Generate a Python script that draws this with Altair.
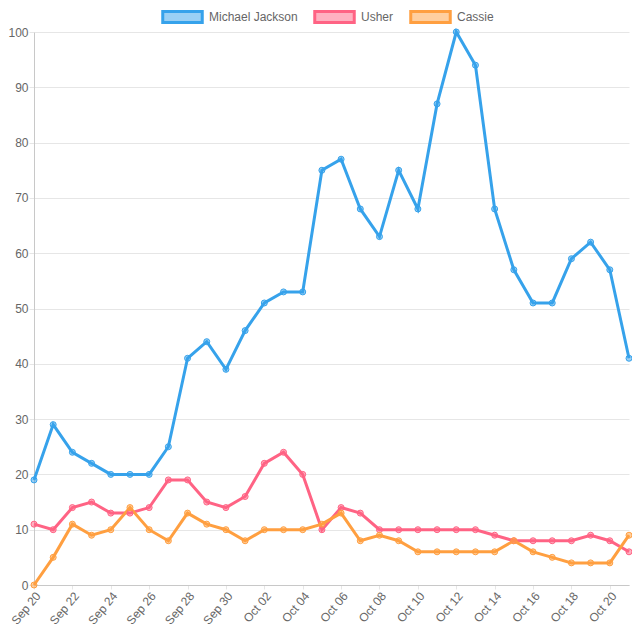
import altair as alt
import pandas as pd

dates = ["Sep 20", "Sep 21", "Sep 22", "Sep 23", "Sep 24", "Sep 25", "Sep 26", "Sep 27",
         "Sep 28", "Sep 29", "Sep 30", "Oct 01", "Oct 02", "Oct 03", "Oct 04", "Oct 05",
         "Oct 06", "Oct 07", "Oct 08", "Oct 09", "Oct 10", "Oct 11", "Oct 12", "Oct 13",
         "Oct 14", "Oct 15", "Oct 16", "Oct 17", "Oct 18", "Oct 19", "Oct 20", "Oct 21"]
michael_jackson = [19, 29, 24, 22, 20, 20, 20, 25, 41, 44, 39, 46, 51, 53, 53, 75,
                   77, 68, 63, 75, 68, 87, 100, 94, 68, 57, 51, 51, 59, 62, 57, 41]
usher = [11, 10, 14, 15, 13, 13, 14, 19, 19, 15, 14, 16, 22, 24, 20, 10,
         14, 13, 10, 10, 10, 10, 10, 10, 9, 8, 8, 8, 8, 9, 8, 6]
cassie = [0, 5, 11, 9, 10, 14, 10, 8, 13, 11, 10, 8, 10, 10, 10, 11,
          13, 8, 9, 8, 6, 6, 6, 6, 6, 8, 6, 5, 4, 4, 4, 9]
series = ["Michael Jackson", "Usher", "Cassie"]
colors = ["#36a2eb", "#ff6384", "#ff9f40"]
fill_colors = ["rgba(54,162,235,0.5)", "rgba(255,99,132,0.5)", "rgba(255,159,64,0.5)"]

rows = []
for name, vals in zip(series, [michael_jackson, usher, cassie]):
    for d, v in zip(dates, vals):
        rows.append({"date": d, "value": v, "series": name})
df = pd.DataFrame(rows)

stroke_scale = alt.Scale(domain=series, range=colors)
fill_scale = alt.Scale(domain=series, range=fill_colors)
x_enc = alt.X("date:N", sort=dates, scale=alt.Scale(type="point", padding=0),
              axis=alt.Axis(values=dates[::2], labelAngle=-50, labelAlign="right",
                            labelBaseline="top", labelPadding=1, tickSize=4,
                            title=None))
y_enc = alt.Y("value:Q", scale=alt.Scale(domain=[0, 100], nice=False),
              axis=alt.Axis(values=list(range(0, 101, 10)), tickSize=5,
                            labelPadding=1, title=None))


def make_legend():
    return alt.Legend(
        orient="none", legendX=127, legendY=-37, direction="horizontal", title=None,
        symbolType="M-1,-0.28L1,-0.28L1,0.28L-1,0.28Z", symbolSize=1560,
        symbolStrokeWidth=3, labelFontSize=12, labelColor="#666666",
        labelFont="Liberation Sans", labelOffset=5, columnPadding=10, padding=0,
    )


base = alt.Chart(df)
lines = base.mark_line(strokeWidth=3).encode(
    x=x_enc, y=y_enc,
    stroke=alt.Stroke("series:N", scale=stroke_scale, sort=series, legend=make_legend()),
)
points = base.mark_point(filled=True, size=36, strokeWidth=1, shape="circle",
                         opacity=1).encode(
    x=x_enc, y=y_enc,
    stroke=alt.Stroke("series:N", scale=stroke_scale, sort=series, legend=make_legend()),
    fill=alt.Fill("series:N", scale=fill_scale, sort=series, legend=make_legend()),
)

chart = alt.layer(lines, points).properties(
    width=595, height=553,
    autosize=alt.AutoSizeParams(type="none"),
    padding={"left": 26, "top": 24, "right": 3, "bottom": 46},
).configure_axis(
    gridColor="#e6e6e6", domainColor="#c8c8c8", tickColor="#e6e6e6",
    labelColor="#666666", labelFontSize=12, labelFont="Liberation Sans",
).configure_view(stroke=None)

chart.save("out.html", embed_options={"renderer": "svg", "actions": False})
